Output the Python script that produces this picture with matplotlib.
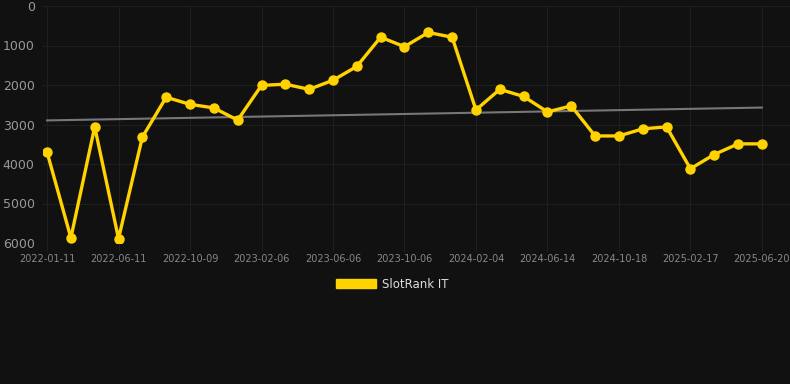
import numpy as np
import matplotlib.pyplot as plt
from matplotlib.patches import Patch

# rank values, one per sample (categorical x axis)
ranks = [3700, 5870, 3060, 5890, 3320, 2310, 2490, 2580, 2890, 2010,
         1980, 2110, 1880, 1530, 790, 1030, 670, 790, 2630, 2110,
         2290, 2680, 2530, 3290, 3290, 3110, 3060, 4120, 3760, 3490,
         3490]
tick_labels = ["2022-01-11", "2022-06-11", "2022-10-09", "2023-02-06",
               "2023-06-06", "2023-10-06", "2024-02-04", "2024-06-14",
               "2024-10-18", "2025-02-17", "2025-06-20"]
tick_step = 3
series_name = "SlotRank IT"

bg = "#111111"
gold = "#FFD200"

fig = plt.figure(figsize=(7.9, 3.84), dpi=100, facecolor=bg)
ax = fig.add_axes([43/790, 1 - 243/384, (790-43)/790, (243-6)/384])
ax.set_facecolor(bg)

x = np.arange(len(ranks))
y = np.array(ranks, dtype=float)

# linear trend
k, b = np.polyfit(x, y, 1)
ax.plot(x, k*x + b, color="#777777", lw=1.5, zorder=2)

ax.plot(x, y, color=gold, lw=2.4, marker="o", markersize=6.5, zorder=3)

ax.set_ylim(6000, 0)
ax.set_yticks([0, 1000, 2000, 3000, 4000, 5000, 6000])
ax.set_xlim(-0.17, 31.18)
ax.set_xticks(x[::tick_step])
ax.set_xticklabels(tick_labels)

ax.grid(True, color="#1f1f1f", lw=0.8)
ax.set_axisbelow(True)
for s in ax.spines.values():
    s.set_visible(False)
ax.tick_params(axis="y", length=0, pad=6, labelsize=9, labelcolor="#999999")
ax.tick_params(axis="x", length=6, color="#1f1f1f", pad=2, labelsize=7,
               labelcolor="#888888")

fig.legend(handles=[Patch(facecolor=gold, edgecolor=gold)], labels=[series_name],
           loc="center", bbox_to_anchor=(392/790, 1 - 284/384), frameon=False,
           handlelength=3.4, handleheight=0.9, fontsize=8.5, labelcolor="#dddddd",
           handletextpad=0.5)

fig.savefig("out.png", dpi=100, facecolor=bg)
